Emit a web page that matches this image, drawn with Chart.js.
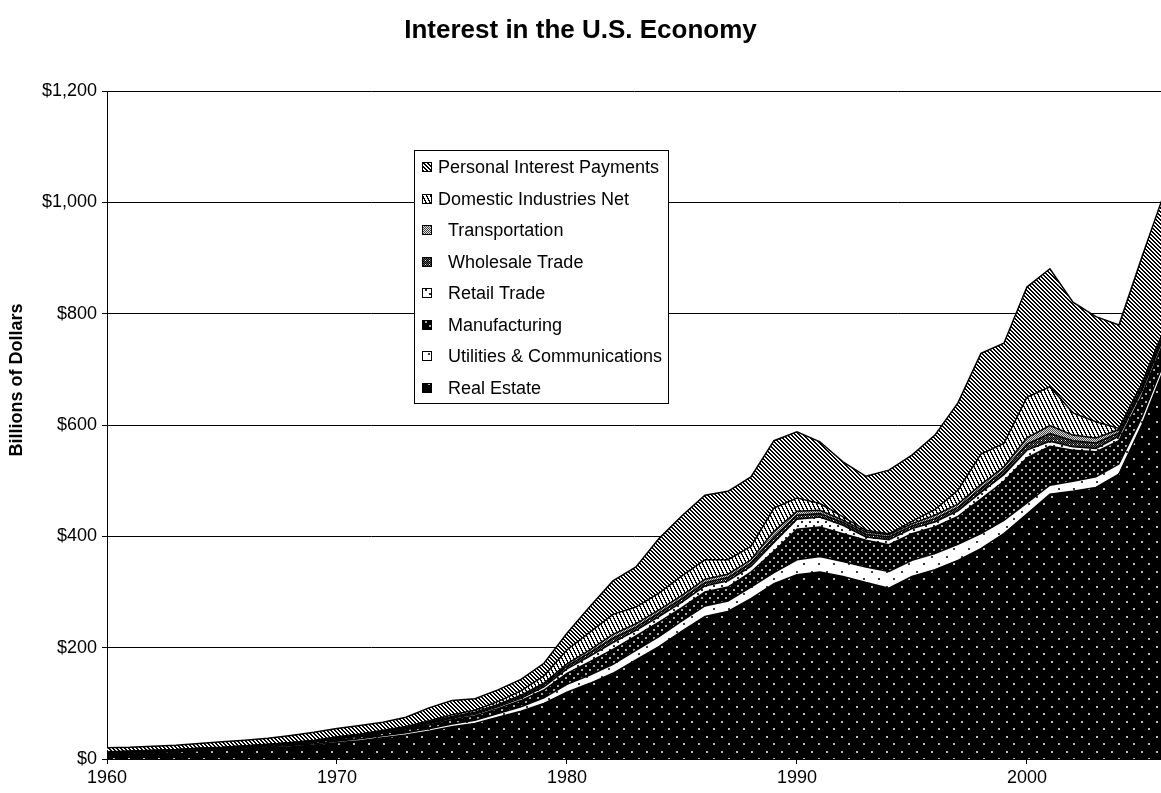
<!DOCTYPE html>
<html>
<head>
<meta charset="utf-8">
<title>Interest in the U.S. Economy</title>
<script src="https://cdn.jsdelivr.net/npm/chart.js@4.4.1/dist/chart.umd.min.js"></script>
<style>
    html, body { margin: 0; padding: 0; background: #ffffff; }
    #chart { display: block; }
</style>
</head>
<body>
<canvas id="chart" width="1161" height="793"></canvas>
<script>
const years = [
    1960, 1961, 1962, 1963, 1964, 1965, 1966, 1967, 1968, 1969,
    1970, 1971, 1972, 1973, 1974, 1975, 1976, 1977, 1978, 1979,
    1980, 1981, 1982, 1983, 1984, 1985, 1986, 1987, 1988, 1989,
    1990, 1991, 1992, 1993, 1994, 1995, 1996, 1997, 1998, 1999,
    2000, 2001, 2002, 2003, 2004, 2005, 2006
];

// billions of dollars
const realEstate = [
    10, 11, 12, 13, 15, 16, 18, 20, 22, 25,
    29, 33, 38, 43, 50, 58, 64, 75, 86, 100,
    120, 136, 154, 178, 202, 230, 256, 265, 288, 315,
    331, 336, 328, 317, 307, 328, 340, 357, 378, 405,
    440, 476, 481, 488, 512, 600, 705
];
const utilities = [
    1, 1, 1, 1.2, 1.3, 1.5, 1.7, 2, 2.2, 2.5,
    3, 3.3, 3.6, 4, 4.5, 5, 5.5, 6.5, 8, 10,
    14, 15, 16, 17, 18, 18, 19, 19, 21, 20,
    27, 28, 27, 28, 30, 29, 29, 29, 27, 24,
    20, 16, 18, 19, 18, 14, 12
];
const manufacturing = [
    1, 1, 1.2, 1.3, 1.5, 1.7, 2, 2.3, 2.7, 3.2,
    4, 4.5, 5, 5.5, 6.5, 7.5, 8, 9, 11, 14,
    20, 24, 27, 26, 26, 24, 25, 25, 27, 38,
    55, 53, 50, 48, 48, 48, 48, 50, 62, 70,
    81, 70, 56, 45, 42, 40, 38
];
const retailTrade = [
    0.3, 0.3, 0.4, 0.4, 0.5, 0.5, 0.6, 0.7, 0.8, 1,
    1.2, 1.3, 1.5, 1.8, 2.2, 2.5, 2.7, 3.2, 4, 5.5,
    8, 10, 12, 10, 10, 10, 11, 11, 10, 16,
    18, 18, 15, 6, 9, 9, 9, 10, 12, 12,
    14, 9, 6, 6, 8, 8, 8
];
const wholesaleTrade = [
    0.3, 0.3, 0.3, 0.4, 0.4, 0.5, 0.5, 0.6, 0.7, 0.8,
    1, 1.1, 1.2, 1.4, 1.8, 2, 2.2, 2.5, 3, 4,
    5, 6, 8, 6, 6, 6, 6, 6, 6, 10,
    7, 6, 5, 5, 5, 5, 6, 6, 7, 7,
    11, 14, 11, 10, 6, 6, 6
];
const transportation = [
    0.2, 0.2, 0.3, 0.3, 0.4, 0.4, 0.5, 0.5, 0.6, 0.7,
    0.8, 0.9, 1, 1.2, 1.4, 1.6, 1.8, 2, 2.5, 3,
    4, 5, 7, 6, 6, 6, 6, 6, 6, 10,
    7, 6, 4, 4, 4, 4, 6, 6, 7, 7,
    11, 14, 10, 9, 6, 6, 6
];
const domesticNet = [
    0.2, 0.2, 0.3, 0.3, 0.4, 0.4, 0.5, 0.5, 0.6, 0.7,
    0.8, 1, 1.2, 1.5, 2.5, 3, 3.5, 5, 8, 13,
    25, 32, 36, 30, 30, 35, 35, 26, 24, 42,
    24, 12, 6, 3, 2, 4, 10, 25, 55, 42,
    73, 70, 40, 29, 2, 1, 1
];
const personalInterest = [
    7, 7, 7.5, 8, 8.5, 10, 10, 10.5, 12.5, 14,
    15, 15, 14.5, 16.5, 23, 25.5, 20.5, 21, 20.5, 22.5,
    30, 46, 60, 72, 98, 108, 116, 123, 125, 121,
    119, 111, 99, 97, 114, 119, 134, 157, 181, 180,
    198, 212, 199, 189, 186, 227, 244
];

const yTicks = [0, 200, 400, 600, 800, 1000, 1200];

const FONT = 'Liberation Sans, Arial, sans-serif';

const canvas = document.getElementById('chart');
const ctx = canvas.getContext('2d');

// small bitmap tiles to mimic the black & white fill patterns
const makePattern = (size, paint) => {
    const tile = document.createElement('canvas');
    tile.width = size;
    tile.height = size;
    const g = tile.getContext('2d');
    const img = g.createImageData(size, size);
    for (let y = 0; y < size; y++) {
        for (let x = 0; x < size; x++) {
            const v = paint(x, y);
            const i = (y * size + x) * 4;
            img.data[i] = v;
            img.data[i + 1] = v;
            img.data[i + 2] = v;
            img.data[i + 3] = 255;
        }
    }
    g.putImageData(img, 0, 0);
    return ctx.createPattern(tile, 'repeat');
};

const dot = (x, y, cx, cy) => (x === cx || x === cx + 1) && (y === cy || y === cy + 1);
const mod = (a, n) => ((a % n) + n) % n;

const patRealEstate = makePattern(15, (x, y) => (dot(x, y, 1, 1) || dot(x, y, 8, 8)) ? 190 : 0);
const patUtilities = makePattern(15, (x, y) => (dot(x, y, 1, 1) || dot(x, y, 8, 8)) ? 60 : 255);
const patManufacturing = makePattern(8, (x, y) => (dot(x, y, 1, 1) || dot(x, y, 5, 5)) ? 170 : 0);
const patRetail = makePattern(8, (x, y) => (dot(x, y, 1, 1) || dot(x, y, 5, 5)) ? 40 : 255);
const patWholesale = makePattern(4, (x, y) => ((x + y) % 2 === 0) ? 0 : ((x % 4 === 1 && y % 4 === 0) ? 255 : 90));
const patTransport = makePattern(4, (x, y) => ((x + y) % 2 === 0) ? 70 : 220);
const patDomestic = makePattern(8, (x, y) => (mod(2 * x - y, 8) < 3) ? 0 : 255);
const patPersonal = makePattern(4, (x, y) => (mod(x - y, 4) < 2) ? 0 : 255);

const toPoints = (values) => years.map((yr, i) => ({ x: yr, y: values[i] }));

// bottom of the stack first
const series = [
    { label: 'Real Estate', values: realEstate, fill: patRealEstate },
    { label: 'Utilities & Communications', values: utilities, fill: patUtilities },
    { label: 'Manufacturing', values: manufacturing, fill: patManufacturing },
    { label: 'Retail Trade', values: retailTrade, fill: patRetail },
    { label: 'Wholesale Trade', values: wholesaleTrade, fill: patWholesale },
    { label: 'Transportation', values: transportation, fill: patTransport },
    { label: 'Domestic Industries Net', values: domesticNet, fill: patDomestic },
    { label: 'Personal Interest Payments', values: personalInterest, fill: patPersonal }
];

const datasets = series.map((s, i) => ({
    label: s.label,
    data: toPoints(s.values),
    backgroundColor: s.fill,
    borderColor: '#000000',
    borderWidth: 1.5,
    pointRadius: 0,
    tension: 0,
    fill: i === 0 ? 'origin' : '-1'
}));

// legend box sitting inside the plot, Excel style
const boxLegend = {
    id: 'boxLegend',
    afterDraw(chart) {
        const c = chart.ctx;
        const left = 414, top = 150, right = 668, bottom = 403;
        c.save();
        c.fillStyle = '#ffffff';
        c.fillRect(left, top, right - left, bottom - top);
        c.strokeStyle = '#000000';
        c.lineWidth = 1;
        c.strokeRect(left + 0.5, top + 0.5, right - left, bottom - top);
        c.font = '18px ' + FONT;
        c.textBaseline = 'middle';
        const items = series.slice().reverse();
        items.forEach((s, i) => {
            const cy = Math.round(167 + i * 31.5);
            c.fillStyle = s.fill;
            c.fillRect(422, cy - 5, 10, 10);
            c.strokeStyle = '#000000';
            c.strokeRect(422.5, cy - 4.5, 9, 9);
            c.fillStyle = '#000000';
            const tx = i < 2 ? 438 : 448;
            c.fillText(s.label, tx, cy + 1);
        });
        c.restore();
    }
};

// y axis title sits a bit above the middle of the plot in the original
const yTitle = {
    id: 'yTitle',
    afterDraw(chart) {
        const c = chart.ctx;
        c.save();
        c.translate(17, 380);
        c.rotate(-Math.PI / 2);
        c.font = 'bold 18px ' + FONT;
        c.fillStyle = '#000000';
        c.textAlign = 'center';
        c.textBaseline = 'middle';
        c.fillText('Billions of Dollars', 0, 0);
        c.restore();
    }
};

const chart = new Chart(ctx, {
    type: 'line',
    data: { datasets: datasets },
    options: {
        responsive: false,
        animation: false,
        events: [],
        layout: { padding: 0 },
        scales: {
            x: {
                type: 'linear',
                min: 1960,
                max: 2005.83,
                afterBuildTicks: (scale) => {
                    scale.ticks = scale.ticks.filter(t => t.value % 10 === 0);
                },
                afterFit: (scale) => { scale.height = 34; },
                ticks: {
                    stepSize: 10,
                    color: '#000000',
                    padding: 3,
                    maxRotation: 0,
                    font: { family: FONT, size: 18 },
                    callback: (v) => String(v)
                },
                grid: {
                    drawOnChartArea: false,
                    drawTicks: true,
                    tickLength: 5,
                    color: '#000000'
                },
                border: { display: true, color: '#000000', width: 1 }
            },
            y: {
                stacked: true,
                min: 0,
                max: 1200,
                afterBuildTicks: (scale) => {
                    scale.ticks = yTicks.map(v => ({ value: v }));
                },
                afterFit: (scale) => { scale.width = 107; },
                ticks: {
                    color: '#000000',
                    padding: 5,
                    font: { family: FONT, size: 18 },
                    callback: (v) => '$' + v.toLocaleString('en-US')
                },
                grid: {
                    color: '#000000',
                    lineWidth: 1,
                    tickLength: 5
                },
                border: { display: true, color: '#000000', width: 1 }
            }
        },
        plugins: {
            legend: { display: false },
            tooltip: { enabled: false },
            title: {
                display: true,
                text: 'Interest in the U.S. Economy',
                color: '#000000',
                font: { family: FONT, size: 26, weight: 'bold' },
                padding: { top: 15, bottom: 45 }
            }
        }
    },
    plugins: [boxLegend, yTitle]
});
</script>
</body>
</html>
